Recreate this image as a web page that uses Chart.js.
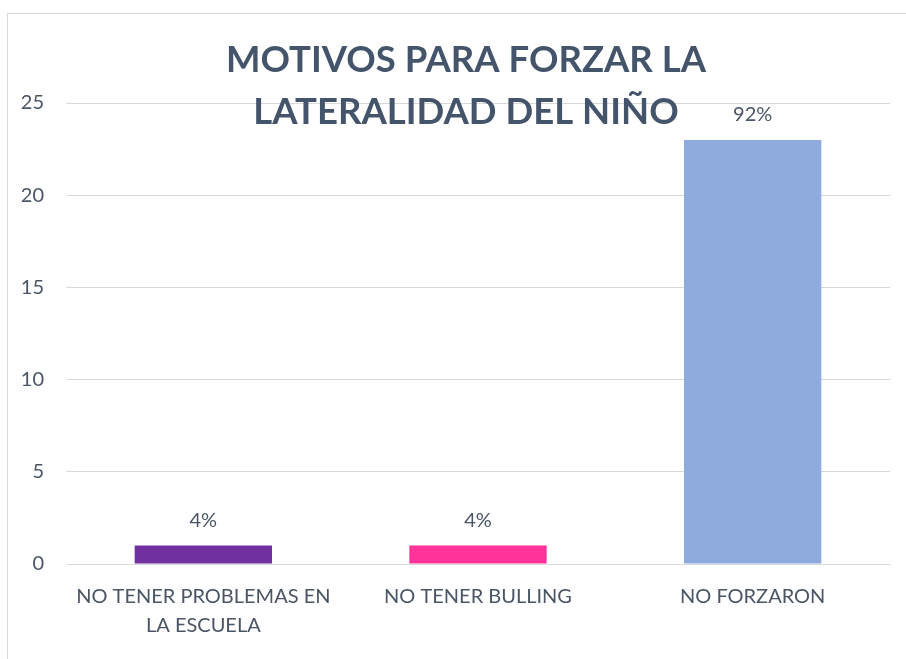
<!DOCTYPE html>
<html>
<head>
<meta charset="utf-8">
<script src="https://cdn.jsdelivr.net/npm/chart.js@4"></script>
<style>
    html, body { margin: 0; padding: 0; background: #fff; }
    #wrap { position: relative; width: 906px; height: 659px; overflow: hidden; }
    #frame { position: absolute; left: 7px; top: 13px; width: 1000px; height: 800px; border: 1px solid #d9d9d9; }
    canvas { position: absolute; left: 0; top: 0; }
</style>
</head>
<body>
<div id="wrap">
    <div id="frame"></div>
    <canvas id="barChart" width="906" height="659"></canvas>
</div>
<script>
const categories = [
    ['NO TENER PROBLEMAS EN', 'LA ESCUELA'],
    'NO TENER BULLING',
    'NO FORZARON'
];
const counts = [1, 1, 23];
const percentLabels = ['4%', '4%', '92%'];
const barColors = ['#7030A0', '#FF3399', '#8FAADC'];
const titleLines = ['MOTIVOS PARA FORZAR LA', 'LATERALIDAD DEL NIÑO'];

const textColor = '#4a5566';
const fontFamily = "Lato, 'Noto Sans', sans-serif";

// title drawn over the plot like in the original
const titlePlugin = {
    id: 'overTitle',
    afterDraw(chart) {
        const ctx = chart.ctx;
        ctx.save();
        ctx.fillStyle = '#44546A';
        ctx.font = 'bold 36.5px ' + fontFamily;
        ctx.textAlign = 'center';
        ctx.textBaseline = 'middle';
        ctx.fillText(titleLines[0], 466, 60);
        ctx.fillText(titleLines[1], 466, 112);
        ctx.restore();
    }
};

const valueLabels = {
    id: 'valueLabels',
    afterDatasetsDraw(chart) {
        const ctx = chart.ctx;
        const meta = chart.getDatasetMeta(0);
        ctx.save();
        ctx.fillStyle = textColor;
        ctx.font = '20px ' + fontFamily;
        ctx.textAlign = 'center';
        ctx.textBaseline = 'middle';
        meta.data.forEach((bar, i) => {
            ctx.fillText(percentLabels[i], bar.x, bar.y - 25);
        });
        ctx.restore();
    }
};

new Chart(document.getElementById('barChart'), {
    type: 'bar',
    data: {
        labels: categories,
        datasets: [{
            data: counts,
            backgroundColor: barColors,
            barPercentage: 0.5,
            categoryPercentage: 1.0
        }]
    },
    options: {
        responsive: false,
        animation: false,
        layout: {
            padding: { top: 103, left: 20, right: 16, bottom: 0 }
        },
        plugins: {
            legend: { display: false },
            tooltip: { enabled: false }
        },
        scales: {
            x: {
                afterFit(scale) { scale.height = 95; },
                grid: { display: false, drawTicks: false },
                border: { display: false },
                ticks: {
                    color: textColor,
                    padding: 18,
                    maxRotation: 0,
                    font: { size: 20, family: fontFamily, lineHeight: 1.45 }
                }
            },
            y: {
                min: 0,
                max: 25,
                afterFit(scale) { scale.width = 46; },
                grid: { color: '#d9d9d9', lineWidth: 1, drawTicks: false },
                border: { display: false },
                ticks: {
                    stepSize: 5,
                    color: textColor,
                    padding: 22,
                    font: { size: 20, family: fontFamily }
                }
            }
        }
    },
    plugins: [titlePlugin, valueLabels]
});
</script>
</body>
</html>
